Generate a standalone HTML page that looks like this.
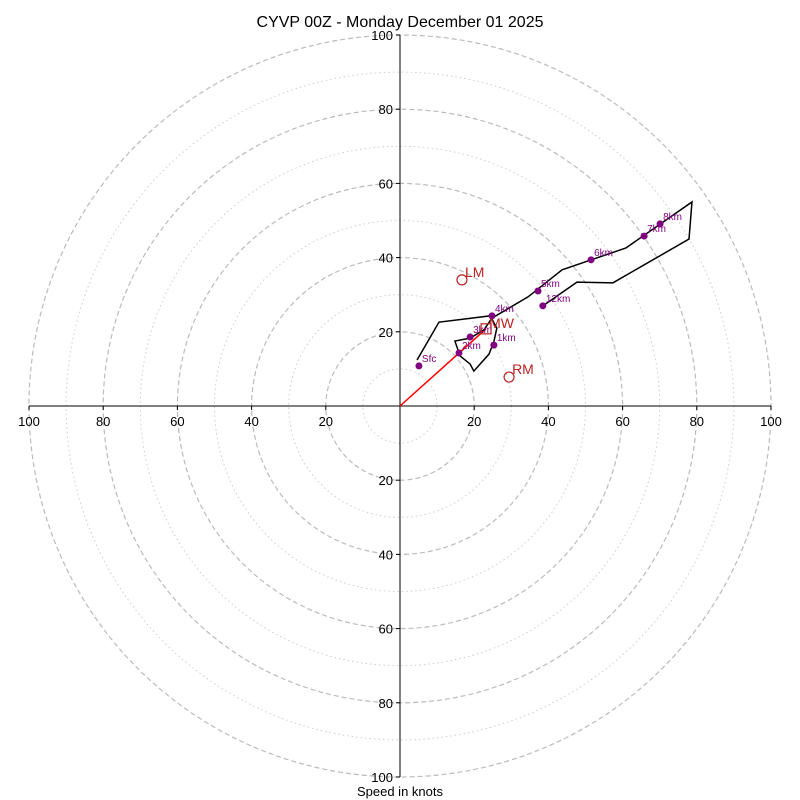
<!DOCTYPE html>
<html><head><meta charset="utf-8"><style>
body{margin:0;background:#fff}
svg{display:block;font-family:"Liberation Sans","DejaVu Sans",sans-serif}
</style></head><body>
<svg id="chart" width="800" height="800" viewBox="0 0 800 800">
<text x="400" y="27" text-anchor="middle" font-size="16">CYVP 00Z - Monday December 01 2025</text>
<text x="400" y="796" text-anchor="middle" font-size="13">Speed in knots</text>
<g id="rings"></g><g id="axes"></g><g id="series"></g>
</svg>
<script>
const ringValues=[10,20,30,40,50,60,70,80,90,100];
const tickLabels=[20,40,60,80,100];
const pathU=[4.6,10.5,24.3,26.1,25.3,24.0,19.9,18.9,16.2,14.8,18.9,22.6,24.8,34.5,43.7,60.9,78.7,77.9,57.4,47.7,38.5];
const pathV=[12.4,22.6,24.3,21.0,17.3,14.0,9.4,11.3,13.5,17.5,18.3,20.5,23.7,29.4,36.7,42.6,55.0,45.0,33.2,33.4,27.0];
const markLabels=["Sfc","1km","2km","3km","4km","5km","6km","7km","8km","12km"];
const markU=[5.1,25.3,15.9,18.9,24.8,37.2,51.5,65.8,70.1,38.5];
const markV=[10.8,16.4,14.3,18.6,24.3,31.0,39.4,45.8,49.1,27.0];
const lm=[16.7,34.0], rm=[29.4,7.8], mw=[23.2,20.8];

const cx=400,cy=406,k=3.71;
const X=u=>cx+u*k, Y=v=>cy-v*k;
const NS="http://www.w3.org/2000/svg";
function mk(tag,attrs,parent){const e=document.createElementNS(NS,tag);for(const a in attrs)e.setAttribute(a,attrs[a]);document.getElementById(parent).appendChild(e);return e;}

ringValues.forEach(r=>{
  const c=mk('circle',{cx:cx,cy:cy,r:r*k,fill:'none',stroke:r%20===0?'#bbb':'#ccc','stroke-width':r%20===0?1.2:1,'stroke-dasharray':r%20===0?'5,3':'1.5,3'},'rings');
  
  
});
let l=mk('line',{x1:X(-100),y1:cy,x2:X(100),y2:cy,stroke:'#000','stroke-width':1},'axes');


l=mk('line',{x1:cx,y1:Y(100),x2:cx,y2:Y(-100),stroke:'#000','stroke-width':1},'axes');


tickLabels.forEach(t=>{
  [1,-1].forEach(s=>{
    mk('line',{x1:X(s*t),y1:cy,x2:X(s*t),y2:cy+4,stroke:'#000'},'axes');
    let tx=mk('text',{x:X(s*t),y:cy+20,'text-anchor':'middle','font-size':13},'axes');
    tx.textContent=t;
    
    
    mk('line',{x1:cx-4,y1:Y(s*t),x2:cx,y2:Y(s*t),stroke:'#000'},'axes');
    let ty=mk('text',{x:cx-7,y:Y(s*t)+5,'text-anchor':'end','font-size':13},'axes');
    ty.textContent=t;
    
    
  });
});
let p=mk('line',{x1:X(0),y1:Y(0),x2:X(mw[0]),y2:Y(mw[1]),stroke:'red','stroke-width':1.5},'series');


let pl=mk('polyline',{points:pathU.map((u,i)=>X(u)+','+Y(pathV[i])).join(' '),fill:'none',stroke:'#000','stroke-width':1.5},'series');


markU.forEach((u,i)=>{
  const d=mk('circle',{cx:X(u),cy:Y(markV[i]),r:3.5,fill:'purple'},'series');
  
  
  const t=mk('text',{x:X(u)+3,y:Y(markV[i])-4,'font-size':10,fill:'purple'},'series');
  t.textContent=markLabels[i];
  
  
});
let q=mk('rect',{x:X(mw[0])-5,y:Y(mw[1])-5,width:10,height:10,fill:'none',stroke:'#b22','stroke-width':1.2},'series');


let qt=mk('text',{x:X(mw[0])+3,y:Y(mw[1])-1,'font-size':14,fill:'#b22'},'series');
qt.textContent='MW';


[[lm,'LM','left-mover'],[rm,'RM','right-mover']].forEach(([pt,lab,nm])=>{
  const c=mk('circle',{cx:X(pt[0]),cy:Y(pt[1]),r:5,fill:'none',stroke:'#b22','stroke-width':1.2},'series');
  
  
  const t=mk('text',{x:X(pt[0])+3,y:Y(pt[1])-3,'font-size':14,fill:'#b22'},'series');
  t.textContent=lab;
  
  
});
</script>
</body></html>
